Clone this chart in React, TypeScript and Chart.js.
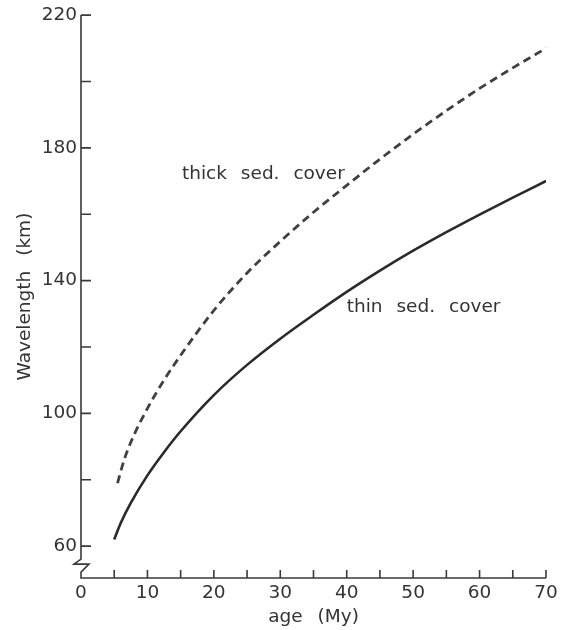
import { useEffect, useRef } from 'react';
import { Chart, registerables } from 'chart.js';

Chart.register(...registerables);

// Data
const AGE_THIN = [5, 6, 7.5, 10, 12.5, 15, 20, 25, 30, 35, 40, 45, 50, 55, 60, 65, 70];
const WL_THIN = [62, 67, 73, 81.3, 88.3, 94.6, 105.5, 114.6, 122.5, 129.7, 136.6, 143, 149, 154.6, 159.9, 165, 170];
const AGE_THICK = [5.5, 6.5, 7.5, 10, 12.5, 15, 20, 25, 30, 35, 40, 45, 50, 55, 60, 65, 70];
const WL_THICK = [79, 86, 91.3, 101.5, 110, 117.5, 131, 142.3, 151.8, 160.6, 168.7, 176.6, 184.1, 191.2, 197.9, 204.1, 210];

const X_LABEL_TICKS = [0, 10, 20, 30, 40, 50, 60, 70];
const X_MINOR_TICKS = [5, 10, 15, 20, 25, 30, 35, 40, 45, 50, 55, 60, 65, 70];
const Y_LABEL_TICKS = [60, 100, 140, 180, 220];
const Y_MINOR_TICKS = [60, 80, 100, 120, 140, 160, 180, 200, 220];

const CURVE_LABELS = ['thick sed. cover', 'thin sed. cover'];
const CURVE_LABEL_AGE = [15.2, 40.0];
const CURVE_LABEL_WL = [172.2, 131.9];

const X_TITLE = 'age (My)';
const Y_TITLE = 'Wavelength (km)';

const FONT_FAMILY = '"DejaVu Sans", sans-serif';
const FONT_SIZE = 18.5;
const INK = '#333333';

const axesPlugin = {
  id: 'customAxes',
  beforeDraw(chart: any) {
    (chart.ctx as any).wordSpacing = '9px';
  },
  afterDraw(chart: any) {
    const { ctx, scales, chartArea } = chart;
    const x = scales.x;
    const y = scales.y;
    const x0 = x.getPixelForValue(0);
    const xEnd = x.getPixelForValue(70);
    const bottom = chartArea.bottom;
    const yTop = y.getPixelForValue(220);
    const y60 = y.getPixelForValue(60);
    ctx.save();
    ctx.strokeStyle = '#3a3a3a';
    ctx.lineWidth = 1.6;
    ctx.lineJoin = 'miter';
    // y axis with break
    ctx.beginPath();
    ctx.moveTo(x0, yTop);
    ctx.lineTo(x0, y60 + 13);
    ctx.lineTo(x0 - 7, y60 + 18);
    ctx.lineTo(x0 + 8, y60 + 18);
    ctx.lineTo(x0, y60 + 26);
    ctx.lineTo(x0, bottom);
    // x axis
    ctx.lineTo(xEnd, bottom);
    ctx.stroke();
    // ticks (inward)
    ctx.beginPath();
    for (const v of Y_MINOR_TICKS) {
      const py = y.getPixelForValue(v);
      ctx.moveTo(x0, py);
      ctx.lineTo(x0 + 10, py);
    }
    for (const v of X_MINOR_TICKS) {
      const px = x.getPixelForValue(v);
      ctx.moveTo(px, bottom);
      ctx.lineTo(px, bottom - 8);
    }
    ctx.stroke();
    // curve labels
    ctx.fillStyle = INK;
    ctx.font = FONT_SIZE + 'px ' + FONT_FAMILY;
    ctx.textBaseline = 'middle';
    ctx.textAlign = 'left';
    (ctx as any).wordSpacing = '8px';
    CURVE_LABELS.forEach((t, i) => {
      ctx.fillText(t, x.getPixelForValue(CURVE_LABEL_AGE[i]), y.getPixelForValue(CURVE_LABEL_WL[i]));
    });
    ctx.restore();
  },
};

export default function App() {
  const ref = useRef<HTMLCanvasElement>(null);
  useEffect(() => {
    if (!ref.current) return;
    const font = { family: FONT_FAMILY, size: FONT_SIZE };
    const chart = new Chart(ref.current, {
      type: 'line',
      data: {
        datasets: [
          {
            label: 'thick sed. cover',
            data: AGE_THICK.map((a, i) => ({ x: a, y: WL_THICK[i] })),
            borderColor: '#404040',
            borderWidth: 2.8,
            borderDash: [8, 5],
            pointRadius: 0,
            cubicInterpolationMode: 'monotone',
            fill: false,
          },
          {
            label: 'thin sed. cover',
            data: AGE_THIN.map((a, i) => ({ x: a, y: WL_THIN[i] })),
            borderColor: '#2a2a2a',
            borderWidth: 2.6,
            pointRadius: 0,
            cubicInterpolationMode: 'monotone',
            fill: false,
          },
        ],
      },
      options: {
        responsive: false,
        animation: false,
        devicePixelRatio: 1,
        layout: { padding: { top: 14, right: 22, left: 0, bottom: 0 } },
        plugins: { legend: { display: false }, tooltip: { enabled: false }, title: { display: false } },
        scales: {
          x: {
            type: 'linear',
            min: 0,
            max: 70,
            grid: { display: false, drawTicks: false },
            border: { display: false },
            ticks: { font, color: INK, padding: 4, maxRotation: 0 },
            afterBuildTicks: (s: any) => {
              s.ticks = X_LABEL_TICKS.map((v) => ({ value: v }));
            },
            afterFit: (s: any) => {
              s.height = 52;
            },
            title: { display: true, text: X_TITLE, font, color: INK, padding: { top: 0, bottom: 2 } },
          },
          y: {
            type: 'linear',
            min: 50.38,
            max: 220,
            grid: { display: false, drawTicks: false },
            border: { display: false },
            ticks: { font, color: INK, padding: 4 },
            afterBuildTicks: (s: any) => {
              s.ticks = Y_LABEL_TICKS.map((v) => ({ value: v }));
            },
            afterFit: (s: any) => {
              s.width = 81;
            },
            title: { display: true, text: Y_TITLE, font, color: INK, padding: { top: 14, bottom: 0 } },
          },
        },
      },
      plugins: [axesPlugin],
    } as any);
    return () => chart.destroy();
  }, []);
  return (
    <canvas
      ref={ref}
      width={568}
      height={630}
      style={{ position: 'absolute', left: 0, top: 0, width: 568, height: 630, display: 'block' }}
    />
  );
}
